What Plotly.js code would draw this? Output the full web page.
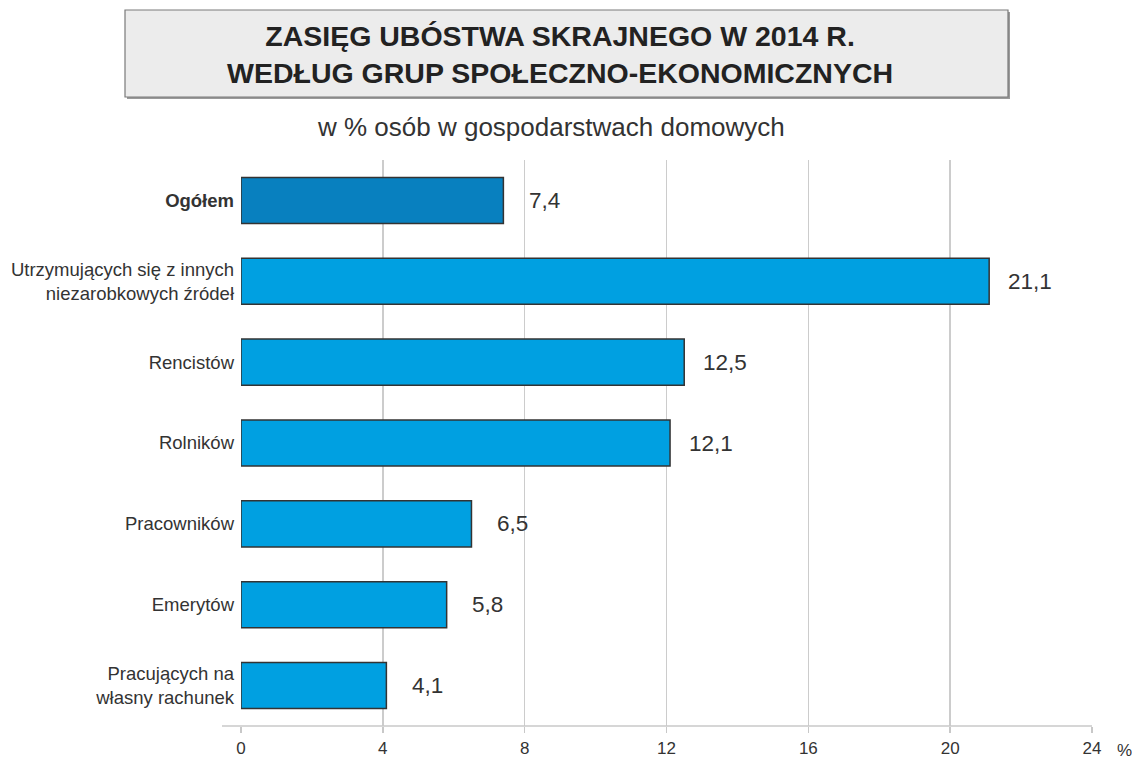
<!DOCTYPE html>
<html><head><meta charset="utf-8">
<script src="https://cdn.plot.ly/plotly-3.0.1.min.js"></script>
<style>body{margin:0;background:#fff}#c{width:1132px;height:760px}</style>
</head><body><div id="c"></div>
<script>
const categories = ["<b>Ogółem</b>", "Utrzymujących się z innych<br>niezarobkowych źródeł", "Rencistów", "Rolników", "Pracowników", "Emerytów", "Pracujących na<br>własny rachunek"];
const values = [7.4, 21.1, 12.5, 12.1, 6.5, 5.8, 4.1];
const valueLabels = ["7,4", "21,1", "12,5", "12,1", "6,5", "5,8", "4,1"];
const xTicks = [0, 4, 8, 12, 16, 20, 24];
const colors = values.map((v, i) => i === 0 ? "#0880bf" : "#00a0e1");

const W = 1132, H = 760, L = 241, R = 40, T = 160, B = 34;
const pw = W - L - R, ph = H - T - B;
const px = x => (x - L) / pw;
const py = y => (H - B - y) / ph;
const FONT = "Liberation Sans, Arial, sans-serif";

const annotations = values.map((v, i) => ({
  x: v, y: categories[i], xref: "x", yref: "y", text: valueLabels[i],
  showarrow: false, xanchor: "center", xshift: 41,
  font: {family: FONT, size: 22.5, color: "#333"}
}));
annotations.push({xref: "paper", yref: "paper", x: px(1124), y: py(750), text: "%", showarrow: false,
  xanchor: "center", yanchor: "middle", font: {family: FONT, size: 17, color: "#333"}});
annotations.push({xref: "paper", yref: "paper", x: px(560), y: py(54), showarrow: false,
  text: "<b>ZASIĘG UBÓSTWA SKRAJNEGO W 2014 R.<br>WEDŁUG GRUP SPOŁECZNO-EKONOMICZNYCH</b>",
  xanchor: "center", yanchor: "middle",
  font: {family: FONT, size: 28.5, color: "#222"}});
annotations.push({xref: "paper", yref: "paper", x: px(551), y: py(127), showarrow: false,
  text: "w % osób w gospodarstwach domowych", xanchor: "center", yanchor: "middle",
  font: {family: FONT, size: 26, color: "#333"}});

const shapes = [
  {type: "rect", xref: "paper", yref: "paper", x0: px(127), x1: px(1010), y0: py(12), y1: py(99),
   fillcolor: "#9a9a9a", line: {width: 0}, layer: "below"},
  {type: "rect", xref: "paper", yref: "paper", x0: px(125), x1: px(1008), y0: py(10), y1: py(97),
   fillcolor: "#ececec", line: {color: "#7a7a7a", width: 1.2}, layer: "below"},
  {type: "line", xref: "paper", yref: "paper", x0: px(222), x1: 1, y0: 0, y1: 0,
   line: {color: "#c8c8c8", width: 1.5}}
];

Plotly.newPlot("c", [{
  type: "bar", orientation: "h", x: values, y: categories,
  marker: {color: colors, line: {color: "#333", width: 1.5}},
  width: 0.57, hoverinfo: "none"
}], {
  width: W, height: H, margin: {l: L, r: R, t: T, b: B},
  paper_bgcolor: "#fff", plot_bgcolor: "#fff", showlegend: false,
  xaxis: {range: [0, 24], tickvals: xTicks, ticktext: xTicks.map(String), showgrid: true,
    gridcolor: "#cccccc", gridwidth: 1.5, zeroline: false, showline: false,
    ticks: "outside", ticklen: 6, tickcolor: "#c8c8c8", tickwidth: 1.5, ticklabelstandoff: 1,
    tickfont: {family: FONT, size: 17, color: "#333"}, fixedrange: true},
  yaxis: {type: "category", autorange: "reversed", showgrid: false, zeroline: false, showline: false,
    ticks: "", ticklabelstandoff: 6,
    tickfont: {family: FONT, size: 18.5, color: "#333"}, fixedrange: true},
  annotations: annotations, shapes: shapes
}, {displayModeBar: false, staticPlot: true});
</script></body></html>
